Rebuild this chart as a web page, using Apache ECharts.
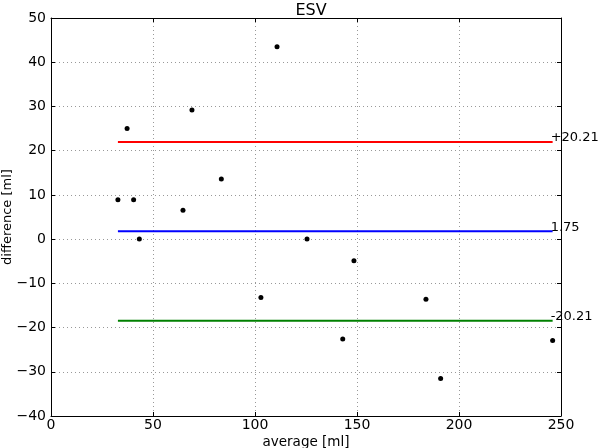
<!DOCTYPE html>
<html><head><meta charset="utf-8">
<script src="https://cdn.jsdelivr.net/npm/echarts@6/dist/echarts.min.js"></script>
<style>html,body{margin:0;padding:0;background:#fff}#c{width:600px;height:448px}</style>
</head><body><div id="c"></div>
<script>
const avgValues = [32.8, 37.3, 40.5, 43.3, 64.7, 69.1, 83.5, 110.8, 102.9, 125.5, 148.5, 143.0, 183.8, 191.0, 245.9];
const diffValues = [8.9, 25.0, 8.9, 0.0, 6.5, 29.2, 13.6, 43.5, -13.2, 0.0, -4.9, -22.6, -13.6, -31.5, -22.9];
const meanDiff = 1.75;
const limitHalf = 20.21;
const limitLabels = ['+20.21', '1.75', '-20.21'];
const xTicks = [0, 50, 100, 150, 200, 250];
const yTicks = [-40, -30, -20, -10, 0, 10, 20, 30, 40, 50];

const font = 'DejaVu Sans';
const xMin = Math.min(...avgValues), xMax = Math.max(...avgValues);
const levels = [meanDiff + limitHalf, meanDiff, meanDiff - limitHalf];
const colors = ['#ff0000', '#0000ff', '#008000'];
const fmt = v => String(v).replace('-', '\u2212');

const chart = echarts.init(document.getElementById('c'), null, {renderer: 'canvas'});
const lineSeries = levels.map((lv, i) => ({
  type: 'line',
  data: [[xMin, lv], [xMax, lv]],
  symbol: 'none',
  lineStyle: {color: colors[i], width: 2},
  silent: true,
  z: 3,
  endLabel: {
    show: true,
    formatter: limitLabels[i],
    color: '#000',
    fontFamily: font,
    fontSize: 13,
    distance: 0,
    offset: [-2, -4]
  }
}));

chart.setOption({
  animation: false,
  title: {text: 'ESV', left: 306, textAlign: 'center', top: -2, textStyle: {fontFamily: font, fontSize: 16, fontWeight: 'normal', color: '#000'}},
  grid: {left: 51, right: 39, top: 18, bottom: 32, containLabel: false, outerBoundsMode: 'none'},
  xAxis: [{
    type: 'value', min: 0, max: 250, interval: 50,
    name: 'average [ml]', nameLocation: 'middle', nameGap: 19, nameMoveOverlap: false,
    nameTextStyle: {fontFamily: font, fontSize: 13.5, color: '#000'},
    axisLine: {show: true, onZero: false, lineStyle: {color: '#000', width: 1}},
    axisTick: {show: true, inside: true, length: 4, lineStyle: {color: '#000'}},
    axisLabel: {fontFamily: font, fontSize: 14, color: '#000', margin: 2, formatter: fmt},
    splitLine: {show: true, lineStyle: {color: '#999', type: [1, 3], width: 1}}
  }, {
    type: 'value', min: 0, max: 250, interval: 50, position: 'top',
    axisLine: {show: true, onZero: false, lineStyle: {color: '#000', width: 1}},
    axisTick: {show: true, inside: true, length: 4, lineStyle: {color: '#000'}},
    axisLabel: {show: false}, splitLine: {show: false}
  }],
  yAxis: [{
    type: 'value', min: -40, max: 50, interval: 10,
    name: 'difference [ml]', nameLocation: 'middle', nameGap: 37, nameMoveOverlap: false,
    nameTextStyle: {fontFamily: font, fontSize: 13, color: '#000'},
    axisLine: {show: true, onZero: false, lineStyle: {color: '#000', width: 1}},
    axisTick: {show: true, inside: true, length: 4, lineStyle: {color: '#000'}},
    axisLabel: {fontFamily: font, fontSize: 14, color: '#000', margin: 5, formatter: fmt},
    splitLine: {show: true, lineStyle: {color: '#999', type: [1, 3], width: 1}}
  }, {
    type: 'value', min: -40, max: 50, interval: 10, position: 'right',
    axisLine: {show: true, onZero: false, lineStyle: {color: '#000', width: 1}},
    axisTick: {show: true, inside: true, length: 4, lineStyle: {color: '#000'}},
    axisLabel: {show: false}, splitLine: {show: false}
  }],
  series: [{
    type: 'scatter',
    data: avgValues.map((x, i) => [x, diffValues[i]]),
    symbol: 'circle', symbolSize: 5,
    itemStyle: {color: '#000', opacity: 1},
    z: 4
  }, ...lineSeries]
});
</script>
</body></html>
